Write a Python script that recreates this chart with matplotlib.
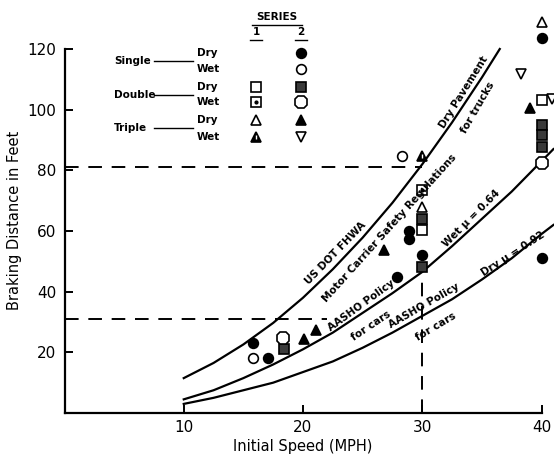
import matplotlib
matplotlib.use('Agg')
import matplotlib.pyplot as plt
from matplotlib.lines import Line2D

W, H = 554, 461

# curves (speed in mph, distance in ft)
speed_truck = [10, 12.5, 15, 17.5, 20, 22.5, 25, 27.5, 30, 32.5, 35, 36.5]
dist_truck = [11.5, 16.5, 22.6, 29.7, 38, 47.4, 57.8, 69.3, 82, 95.8, 110.6, 120]

speed_car = [10, 12.5, 15, 17.5, 20, 22.5, 25, 27.5, 30, 32.5, 35, 37.5, 40, 41]
dist_car_wet = [4.5, 7.5, 11.5, 16, 21, 26.5, 33, 39.5, 46.5, 55, 64, 73, 83, 87]
dist_car_dry = [3, 5, 7.5, 10, 13.5, 17, 21.5, 26.5, 32, 37.5, 44, 51, 59, 62]

# reference (dashed) lines
truck_ref_dist = 81
car_ref_dist = 31
car_ref_speed_end = 22
ref_speed = 30
ref_vert_top = 44

# measured stops, one list per symbol
single_dry_2_x = [15.8, 17.1, 27.9, 28.9, 28.9, 30, 40, 40]
single_dry_2_y = [23.1, 18.1, 44.8, 60, 57.5, 52.1, 123.6, 51]
single_wet_2_x = [15.8, 28.3]
single_wet_2_y = [18.1, 84.7]
double_dry_1_x = [30, 40]
double_dry_1_y = [60.3, 103.2]
double_dry_2_x = [18.4, 30, 30, 40, 40, 40]
double_dry_2_y = [21, 64, 48.1, 95, 91.5, 87.7]
double_wet_1_x = [30]
double_wet_1_y = [73.5]
double_wet_2_x = [18.3, 40]
double_wet_2_y = [24.6, 82.4]
triple_dry_1_x = [30, 40]
triple_dry_1_y = [68, 129]
triple_dry_2_x = [20.1, 21.1, 26.8, 39]
triple_dry_2_y = [24.4, 27.4, 53.7, 100.5]
triple_wet_1_x = [30]
triple_wet_1_y = [84.7]
triple_wet_2_x = [38.3, 40.9]
triple_wet_2_y = [111.8, 103.5]

styles = {
    'single_dry_2': dict(marker='o', ms=7, mfc='k', mec='k'),
    'single_wet_2': dict(marker='o', ms=7, mfc='white', mec='k'),
    'double_dry_1': dict(marker='s', ms=7, mfc='white', mec='k'),
    'double_dry_2': dict(marker='s', ms=7, mfc='#3a3a3a', mec='k'),
    'double_wet_1': dict(marker='s', ms=7, mfc='white', mec='k'),
    'double_wet_2': dict(marker='8', ms=9.5, mfc='white', mec='k'),
    'triple_dry_1': dict(marker='^', ms=7.5, mfc='white', mec='k'),
    'triple_dry_2': dict(marker='^', ms=7.5, mfc='k', mec='k'),
    'triple_wet_1': dict(marker='^', ms=7.5, mfc='k', mec='k'),
    'triple_wet_2': dict(marker='v', ms=7.5, mfc='white', mec='k'),
}
points = {
    'single_dry_2': (single_dry_2_x, single_dry_2_y),
    'single_wet_2': (single_wet_2_x, single_wet_2_y),
    'double_dry_1': (double_dry_1_x, double_dry_1_y),
    'double_dry_2': (double_dry_2_x, double_dry_2_y),
    'double_wet_1': (double_wet_1_x, double_wet_1_y),
    'double_wet_2': (double_wet_2_x, double_wet_2_y),
    'triple_dry_1': (triple_dry_1_x, triple_dry_1_y),
    'triple_dry_2': (triple_dry_2_x, triple_dry_2_y),
    'triple_wet_1': (triple_wet_1_x, triple_wet_1_y),
    'triple_wet_2': (triple_wet_2_x, triple_wet_2_y),
}


def fx(px):
    return px / W


def fy(py):
    return 1 - py / H


def extras(name, x, y, transform=None):
    # inner details for the dotted square and the marked triangle
    kw = {} if transform is None else dict(transform=transform)
    if name == 'double_wet_1':
        return [Line2D(x, y, ls='none', marker='o', ms=2, mfc='k', mec='k', **kw)]
    if name == 'triple_wet_1':
        return [Line2D(x, y, ls='none', marker='|', ms=3.5, mew=1, color='white', **kw)]
    return []


fig = plt.figure(figsize=(W / 100, H / 100), dpi=100)
ax = fig.add_axes([fx(64.5), fy(413), (541.5 - 64.5) / W, (413 - 49) / H])
ax.set_xlim(0, 40)
ax.set_ylim(0, 120)
for s in ['top', 'right']:
    ax.spines[s].set_visible(False)
for s in ['left', 'bottom']:
    ax.spines[s].set_linewidth(1.6)
ax.set_xticks([10, 20, 30, 40])
ax.set_yticks([20, 40, 60, 80, 100, 120])
ax.tick_params(direction='in', length=6, width=1.4, labelsize=11)
ax.tick_params(axis='x', pad=5)
ax.tick_params(axis='y', pad=6)
ax.set_xlabel('Initial Speed (MPH)', fontsize=10.5, labelpad=3)
ax.set_ylabel('Braking Distance in Feet', fontsize=10.5)
ax.yaxis.set_label_coords((22 - 64.5) / 477, 0.53)

# curves
ax.plot(speed_truck, dist_truck, color='k', lw=1.6, clip_on=False)
ax.plot(speed_car, dist_car_wet, color='k', lw=1.6, clip_on=False)
ax.plot(speed_car, dist_car_dry, color='k', lw=1.6, clip_on=False)

# dashed reference lines
dash = (0, (7, 5))
ax.plot([0, ref_speed], [truck_ref_dist, truck_ref_dist], color='k', lw=1.4, ls=dash)
ax.plot([0, car_ref_speed_end], [car_ref_dist, car_ref_dist], color='k', lw=1.4, ls=dash)
ax.plot([ref_speed, ref_speed], [0, ref_vert_top], color='k', lw=1.4, ls=dash)

# data points
for name, (xs, ys) in points.items():
    ax.plot(xs, ys, ls='none', mew=1.2, clip_on=False, zorder=4, **styles[name])
    for art in extras(name, xs, ys, transform=ax.transData):
        art.set_clip_on(False)
        art.set_zorder(5)
        ax.add_line(art)

# curve labels
lab = dict(fontsize=7.5, fontweight='bold', ha='center', va='center')
fig.text(fx(464), fy(92), 'Dry Pavement', rotation=58, **lab)
fig.text(fx(478), fy(108), 'for trucks', rotation=60, **lab)
fig.text(fx(336), fy(253), 'US DOT FHWA', rotation=46, **lab)
fig.text(fx(390), fy(228), 'Motor Carrier Safety Regulations', rotation=48, **lab)
fig.text(fx(361), fy(306), 'AASHO Policy', rotation=36, **lab)
fig.text(fx(371), fy(326), 'for cars', rotation=34, **lab)
fig.text(fx(471), fy(218), 'Wet μ = 0.64', rotation=45, **lab)
fig.text(fx(424), fy(306), 'AASHO Policy', rotation=30, **lab)
fig.text(fx(436), fy(327), 'for cars', rotation=31, **lab)
fig.text(fx(513), fy(254), 'Dry μ = 0.92', rotation=33, **lab)

# legend block
leg = dict(fontsize=7.5, fontweight='bold', va='center')
fig.text(fx(277), fy(17), 'SERIES', ha='center', **leg)
fig.add_artist(Line2D([fx(252), fx(302)], [fy(25), fy(25)], color='k', lw=1))
fig.text(fx(256), fy(32), '1', ha='center', **leg)
fig.text(fx(301), fy(32), '2', ha='center', **leg)
fig.add_artist(Line2D([fx(250), fx(262)], [fy(40), fy(40)], color='k', lw=1))
fig.add_artist(Line2D([fx(295), fx(307)], [fy(40), fy(40)], color='k', lw=1))

groups = ['Single', 'Double', 'Triple']
group_y = [61, 95, 128]
row_y = [53, 69, 87, 102, 120, 137]
legend_rows = [
    (None, 'single_dry_2'), (None, 'single_wet_2'),
    ('double_dry_1', 'double_dry_2'), ('double_wet_1', 'double_wet_2'),
    ('triple_dry_1', 'triple_dry_2'), ('triple_wet_1', 'triple_wet_2'),
]
for g, gy in zip(groups, group_y):
    fig.text(fx(114), fy(gy), g, ha='left', **leg)
    fig.add_artist(Line2D([fx(154), fx(193)], [fy(gy), fy(gy)], color='k', lw=1))
for i, (ry, pair) in enumerate(zip(row_y, legend_rows)):
    fig.text(fx(197), fy(ry), 'Dry' if i % 2 == 0 else 'Wet', ha='left', **leg)
    for px, name in zip([256, 301], pair):
        if name is None:
            continue
        fig.add_artist(Line2D([fx(px)], [fy(ry)], ls='none', mew=1.2, **styles[name]))
        for art in extras(name, [fx(px)], [fy(ry)]):
            fig.add_artist(art)

fig.savefig('out.png', dpi=100)
